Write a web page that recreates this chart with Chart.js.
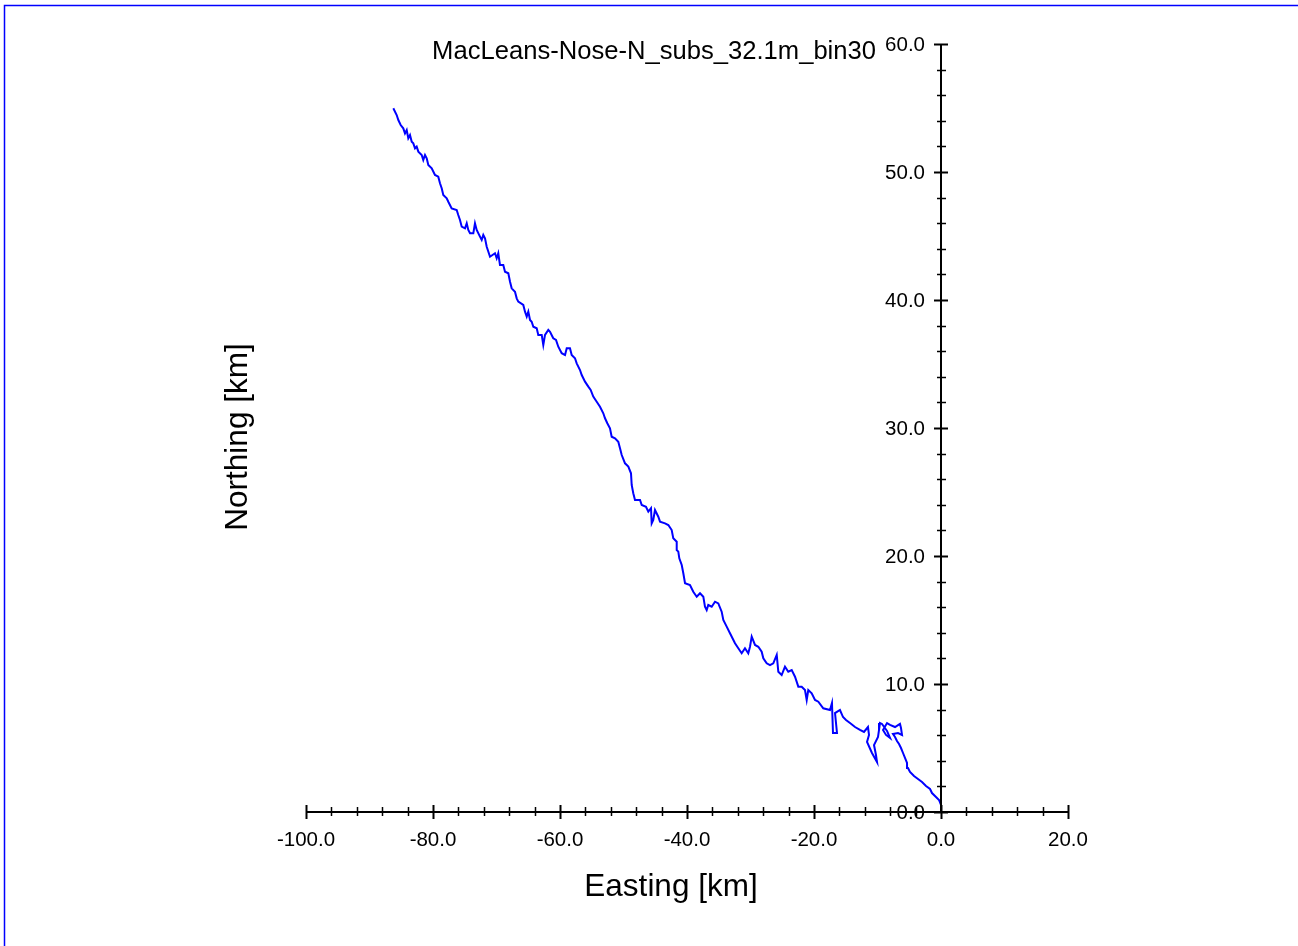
<!DOCTYPE html>
<html>
<head>
<meta charset="utf-8">
<script src="https://cdn.jsdelivr.net/npm/chart.js@4"></script>
<style>
  body { margin: 0; background: #fff; }
  #pvd { display: block; }
</style>
</head>
<body>
<canvas id="pvd" width="1298" height="946"></canvas>
<script>
const chartTitle = 'MacLeans-Nose-N_subs_32.1m_bin30';
const xTitle = 'Easting [km]';
const yTitle = 'Northing [km]';

// progressive vector track, from origin outwards (km)
const eastKm = [
    0.0, 0.0, -0.31, -0.79, -1.42, -1.73, -2.36, -2.99, -3.62, -4.25, -4.88, -5.20, -5.35, -5.67, -5.98, -6.30, -6.61, -6.93, -7.24, -7.56,
    -6.77, -6.14, -6.30, -6.46, -7.24, -8.03, -8.50, -9.13, -8.66, -8.03, -8.50, -9.29, -9.61, -9.76, -9.92, -10.55, -10.24, -10.08, -10.87, -11.65,
    -11.34, -11.50, -12.13, -12.76, -13.54, -14.33, -14.96, -15.43, -15.91, -16.69, -16.38, -17.01, -17.17, -17.48,
    -18.54, -19.32, -19.84, -20.36, -20.90, -21.15, -21.42, -21.94, -22.47, -22.99, -23.51, -24.05, -24.57, -25.09, -25.62, -25.87, -26.41, -26.93, -27.45, -27.98,
    -28.24, -28.77, -29.29, -29.81, -30.08, -30.35, -30.87, -31.39, -31.92, -32.44, -33.23, -33.75, -34.28, -34.54, -35.07, -35.59, -36.11, -36.65, -36.90, -37.17,
    -37.43, -37.95, -38.47, -39.01, -39.53, -40.31,
    -40.58, -40.83, -41.21, -41.37, -41.62, -41.62, -42.16, -42.41, -42.94, -43.46, -44.25, -44.52, -45.04, -45.31, -45.56, -45.67, -46.09, -46.46, -47.13, -47.40,
    -48.19, -48.46, -48.71, -48.82, -49.24, -49.76, -50.28, -50.55, -50.82, -51.34, -51.86, -52.13, -52.55, -52.91, -53.18, -53.70, -54.22, -54.76, -55.17, -55.54,
    -56.06, -56.58, -56.85, -57.37, -57.64, -58.16, -58.43, -58.94, -59.21, -59.73, -60.27, -60.63, -61.06, -61.57, -61.84, -62.36, -62.63, -62.88, -63.42, -63.67,
    -64.20, -64.46, -64.72,
    -64.99, -65.24, -65.51, -65.78, -66.57, -66.82, -67.09, -67.61, -67.87, -68.14, -68.66, -68.93, -69.45, -69.72, -69.97, -70.24, -71.02, -71.54, -71.81, -72.08,
    -72.33, -72.60, -73.12, -73.39, -73.65, -74.17, -74.44, -74.69, -74.96, -75.48, -75.75, -76.02, -76.27, -77.06, -77.59, -77.84, -78.38, -78.63, -78.90, -79.17,
    -79.69, -80.20, -80.74, -80.99, -81.26, -81.53, -81.78, -82.31, -82.57, -82.83, -83.10, -83.35, -83.62, -83.89, -84.14, -84.41, -84.68, -85.09, -85.46, -85.72,
    -86.25
];
const northKm = [
    0.0, 0.55, 0.94, 1.17, 1.48, 1.80, 2.03, 2.34, 2.58, 2.81, 3.13, 3.44, 3.83, 4.22, 4.61, 5.00, 5.31, 5.55, 5.86, 6.09,
    6.17, 6.02, 6.56, 6.88, 6.64, 6.80, 6.95, 6.41, 6.02, 5.78, 6.33, 6.88, 6.95, 6.41, 5.86, 5.23, 4.45, 3.91, 4.61, 5.47,
    6.02, 6.64, 6.25, 6.41, 6.64, 6.95, 7.19, 7.42, 7.97, 7.73, 6.17, 6.17, 8.52, 7.97,
    8.10, 8.62, 8.75, 9.27, 9.53, 8.75, 9.53, 9.79, 9.79, 10.57, 11.09, 10.96, 11.35, 10.70, 10.96, 12.27, 11.62, 11.48, 11.62, 12.01,
    12.52, 12.91, 13.05, 13.70, 12.91, 12.40, 12.79, 12.40, 12.79, 13.18, 13.96, 14.48, 15.00, 15.65, 16.30, 16.43, 16.04, 16.17, 15.78, 16.04,
    16.82, 17.09, 16.82, 17.21, 17.73, 17.87,
    18.65, 19.30, 19.82, 20.34, 20.47, 21.12, 21.38, 22.03, 22.42, 22.55, 22.68, 23.07, 23.59, 22.81, 22.55, 23.73, 23.46, 23.85, 23.98, 24.38,
    24.38, 24.90, 25.55, 26.46, 26.98, 27.24, 27.89, 28.41, 28.93, 29.20, 29.32, 29.98, 30.37, 30.76, 31.15, 31.66, 32.05, 32.45, 32.97, 33.23,
    33.62, 34.14, 34.53, 35.05, 35.45, 35.70, 36.23, 36.23, 35.70, 35.84, 36.35, 36.88, 37.01, 37.52, 37.66, 37.27, 36.48, 37.27, 37.27, 37.79,
    37.91, 38.30, 38.44,
    39.09, 38.70, 39.09, 39.61, 39.87, 40.13, 40.65, 40.91, 41.43, 42.09, 42.21, 42.73, 42.73, 43.65, 43.26, 43.65, 43.38, 44.16, 44.82, 45.08,
    44.69, 44.95, 45.47, 45.99, 45.21, 45.21, 45.47, 45.99, 45.60, 45.73, 46.25, 46.64, 47.03, 47.16, 47.68, 47.95, 48.20, 48.73, 49.12, 49.63,
    49.77, 50.29, 50.55, 51.07, 51.33, 50.94, 51.33, 51.59, 51.98, 51.85, 52.24, 52.37, 52.89, 52.63, 53.28, 53.02, 53.41, 53.67, 54.06, 54.45,
    54.98
];

const xMajor = [-100, -80, -60, -40, -20, 0, 20];
const yMajor = [0, 10, 20, 30, 40, 50, 60];
const xMinorStep = 4;
const yMinorStep = 2;

const font = '"Liberation Sans", Arial, sans-serif';

const axesPlugin = {
    id: 'pvdAxes',
    afterDraw(chart) {
        const ctx = chart.ctx;
        const xs = chart.scales.x;
        const ys = chart.scales.y;
        const x0 = xs.getPixelForValue(0);
        const y0 = ys.getPixelForValue(0);
        ctx.save();

        // frame
        ctx.strokeStyle = '#0000ff';
        ctx.lineWidth = 1.5;
        ctx.beginPath();
        ctx.moveTo(4.5, 946);
        ctx.lineTo(4.5, 5.5);
        ctx.lineTo(1298, 5.5);
        ctx.stroke();

        ctx.strokeStyle = '#000';
        ctx.fillStyle = '#000';

        // x axis
        ctx.lineWidth = 2;
        ctx.beginPath();
        ctx.moveTo(xs.getPixelForValue(xMajor[0]), y0);
        ctx.lineTo(xs.getPixelForValue(xMajor[xMajor.length - 1]), y0);
        ctx.stroke();
        for (let v = xMajor[0]; v <= xMajor[xMajor.length - 1]; v += xMinorStep) {
            const px = Math.round(xs.getPixelForValue(v)) + 0.5;
            const major = v % 20 === 0;
            ctx.lineWidth = major ? 2 : 1.5;
            ctx.beginPath();
            ctx.moveTo(px, y0 - (major ? 7 : 5));
            ctx.lineTo(px, y0 + (major ? 7 : 4));
            ctx.stroke();
        }

        // y axis
        ctx.lineWidth = 2;
        ctx.beginPath();
        ctx.moveTo(x0, ys.getPixelForValue(yMajor[0]));
        ctx.lineTo(x0, ys.getPixelForValue(yMajor[yMajor.length - 1]));
        ctx.stroke();
        for (let v = yMajor[0]; v <= yMajor[yMajor.length - 1]; v += yMinorStep) {
            const py = Math.round(ys.getPixelForValue(v)) + 0.5;
            const major = v % 10 === 0;
            ctx.lineWidth = major ? 2 : 1.5;
            ctx.beginPath();
            ctx.moveTo(x0 - (major ? 7 : 4), py);
            ctx.lineTo(x0 + (major ? 7 : 5), py);
            ctx.stroke();
        }

        // tick labels
        ctx.font = '20.5px ' + font;
        ctx.textAlign = 'center';
        ctx.textBaseline = 'alphabetic';
        for (const v of xMajor) {
            ctx.fillText(v.toFixed(1), xs.getPixelForValue(v), y0 + 34);
        }
        ctx.textAlign = 'right';
        ctx.textBaseline = 'middle';
        for (const v of yMajor) {
            ctx.fillText(v.toFixed(1), x0 - 16, ys.getPixelForValue(v) + 1);
        }

        // titles
        ctx.font = '25.6px ' + font;
        ctx.textAlign = 'right';
        ctx.textBaseline = 'alphabetic';
        ctx.fillText(chartTitle, 876, 59);

        ctx.font = '31.5px ' + font;
        ctx.textAlign = 'center';
        ctx.textBaseline = 'middle';
        ctx.fillText(xTitle, 671, 887);
        ctx.translate(238, 437);
        ctx.rotate(-Math.PI / 2);
        ctx.fillText(yTitle, 0, 0);
        ctx.restore();
    }
};

const points = eastKm.map((e, i) => ({ x: e, y: northKm[i] }));

new Chart(document.getElementById('pvd'), {
    type: 'scatter',
    data: {
        datasets: [{
            data: points,
            showLine: true,
            borderColor: '#0000ff',
            backgroundColor: '#0000ff',
            borderWidth: 2,
            pointRadius: 0,
            tension: 0
        }]
    },
    options: {
        responsive: false,
        animation: false,
        layout: { padding: { left: 306, right: 230, top: 44, bottom: 134 } },
        plugins: {
            legend: { display: false },
            tooltip: { enabled: false }
        },
        scales: {
            x: { type: 'linear', min: -100, max: 20, display: false },
            y: { type: 'linear', min: 0, max: 60, display: false }
        }
    },
    plugins: [axesPlugin]
});
</script>
</body>
</html>
